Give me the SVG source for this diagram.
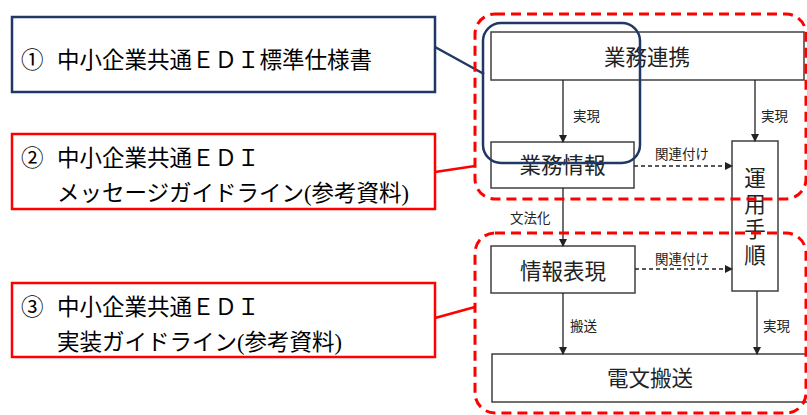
<svg xmlns="http://www.w3.org/2000/svg" width="807" height="415" viewBox="0 0 807 415">
<style>
.lbox{fill:#fff;stroke-width:2.5}
.navy{stroke:#203864}
.red{stroke:#ff0000}
.ltxt{font-family:"Liberation Serif","Noto Sans CJK JP",serif;font-size:22.5px;fill:#000}
.node{fill:#fff;stroke:#404040;stroke-width:1.5}
.ntxt{font-family:"Noto Sans CJK JP","Noto Sans",sans-serif;font-size:21.5px;fill:#222;text-anchor:middle}
.vtxt{font-family:"Noto Sans CJK JP","Noto Sans",sans-serif;font-size:21.5px;fill:#222;writing-mode:vertical-rl;letter-spacing:4.2px}
.lab{font-family:"Noto Sans CJK JP","Noto Sans",sans-serif;font-size:13.5px;fill:#222}
.arr{stroke:#222;stroke-width:1.3;fill:none;marker-end:url(#ah)}
.dash{stroke-dasharray:4,3}
.grp{fill:none;stroke:#ff0000;stroke-width:3;stroke-dasharray:10,6}
.link{fill:none;stroke-width:2.5}
</style>
<defs>
<marker id="ah" markerWidth="8" markerHeight="8" refX="7" refY="4" orient="auto" markerUnits="userSpaceOnUse">
<path d="M0,0 L8,4 L0,8 Z" fill="#222"/>
</marker>
</defs>

<g id="doc1">
<rect class="lbox navy" x="12" y="17" width="423" height="75"/>
<text class="ltxt" x="21" y="68">①</text>
<text class="ltxt" x="57" y="68">中小企業共通ＥＤＩ標準仕様書</text>
</g>
<g id="doc2">
<rect class="lbox red" x="12" y="134" width="423" height="75"/>
<text class="ltxt" x="21" y="166">②</text>
<text class="ltxt" x="57" y="166">中小企業共通ＥＤＩ</text>
<text class="ltxt" x="57" y="201">メッセージガイドライン(参考資料)</text>
</g>
<g id="doc3">
<rect class="lbox red" x="12" y="283" width="423" height="74"/>
<text class="ltxt" x="21" y="315">③</text>
<text class="ltxt" x="57" y="315">中小企業共通ＥＤＩ</text>
<text class="ltxt" x="57" y="350">実装ガイドライン(参考資料)</text>
</g>

<g id="n-gyomurenkei">
<rect class="node" x="491" y="32" width="313" height="48"/>
<text class="ntxt" x="647" y="65">業務連携</text>
</g>
<g id="n-gyomujoho">
<rect class="node" x="491" y="142" width="143" height="46"/>
<text class="ntxt" x="562.5" y="173">業務情報</text>
</g>
<g id="n-unyo">
<rect class="node" x="732" y="141" width="46" height="150"/>
<text class="vtxt" x="755" y="167">運用手順</text>
</g>
<g id="n-johohyogen">
<rect class="node" x="491" y="246" width="144" height="47"/>
<text class="ntxt" x="563" y="279">情報表現</text>
</g>
<g id="n-denbun">
<rect class="node" x="492" y="354" width="318" height="48"/>
<text class="ntxt" x="650" y="386">電文搬送</text>
</g>

<g id="connectors">
<line class="arr" x1="563" y1="80" x2="563" y2="142"/>
<line class="arr" x1="755" y1="80" x2="755" y2="141"/>
<line class="arr dash" x1="634" y1="166" x2="732" y2="166"/>
<line class="arr" x1="563" y1="188" x2="563" y2="246"/>
<line class="arr dash" x1="635" y1="269" x2="732" y2="269"/>
<line class="arr" x1="563" y1="293" x2="563" y2="354"/>
<line class="arr" x1="757" y1="291" x2="757" y2="354"/>
<text class="lab" x="573" y="121">実現</text>
<text class="lab" x="761" y="121">実現</text>
<text class="lab" x="655" y="159">関連付け</text>
<text class="lab" x="510" y="223">文法化</text>
<text class="lab" x="655" y="264">関連付け</text>
<text class="lab" x="570" y="331">搬送</text>
<text class="lab" x="763" y="331">実現</text>
<line class="link navy" x1="435" y1="47" x2="484" y2="74"/>
<line class="link red" x1="435" y1="172" x2="475" y2="166"/>
<line class="link red" x1="435" y1="318" x2="475" y2="307"/>
</g>

<g id="group-spec">
<rect x="483" y="23" width="157" height="140" rx="18" fill="none" stroke="#203864" stroke-width="2.5"/>
</g>
<g id="group-msg">
<rect class="grp" x="475" y="14" width="331" height="185" rx="20"/>
</g>
<g id="group-impl">
<rect class="grp" x="475" y="233" width="331" height="180" rx="20"/>
</g>
</svg>
